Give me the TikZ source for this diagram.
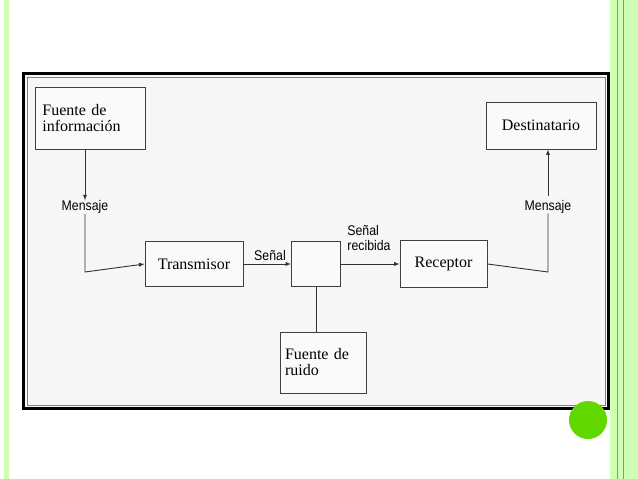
\documentclass[tikz,border=0pt]{standalone}
\usepackage{fontspec}
\setmainfont{Liberation Serif}
\newfontfamily\lab{Liberation Sans}
\begin{document}
\begin{tikzpicture}[x=1pt,y=-1pt,
  box/.style={draw=black!75,line width=0.9pt,fill=white!96!gray,inner sep=0pt,font=\fontsize{16}{16}\selectfont,align=left},
  lbl/.style={font=\lab\fontsize{14}{15}\selectfont,xscale=0.88,align=left,inner sep=0pt},
  arr/.style={line width=0.9pt,draw=black!80,-latex},
  ln/.style={line width=0.9pt,draw=black!80}]
\useasboundingbox (0,0) rectangle (638,479);
\fill[white] (0,0) rectangle (638,479);
% slide decoration
\fill[green!50!lime!30] (4,0) rectangle (9,479);
\fill[green!50!lime!30] (610,0) rectangle (638,479);
\draw[green!45!black!60,line width=0.7pt] (617,0) -- (617,479);
\draw[green!45!black!60,line width=0.7pt] (623,0) -- (623,479);
% frame
\fill[gray!6] (22,72) rectangle (610,410);
\draw[black,line width=3pt] (23.5,73.5) rectangle (608.5,408.5);
\draw[gray,line width=0.8pt] (27,77) rectangle (605,405);
\fill[lime!60!green!85!black] (588,420) circle (19);
% nodes
\node[box,minimum width=110,minimum height=62,anchor=north west,text width=100] (fi) at (35,87) {\hspace*{2pt}Fuente de\\\hspace*{2pt}información};
\node[box,minimum width=98,minimum height=45] (tr) at (194,264) {Transmisor};
\node[box,minimum width=49,minimum height=45] (mx) at (316,264) {};
\node[box,minimum width=87,minimum height=47] (re) at (443.5,264) {Receptor};
\node[box,minimum width=110,minimum height=47] (de) at (541,125.5) {Destinatario};
\node[box,minimum width=86,minimum height=61,text width=76] (ru) at (323,362.5) {Fuente de\\ruido};
\node[lbl] (m1) at (85,207) {Mensaje};
\node[lbl] (m2) at (548,207) {Mensaje};
\node[lbl] (s1) at (270,255) {Señal};
\node[lbl] (s2) at (369,238) {Señal\\recibida};
\coordinate (c1) at (85,272);
\coordinate (c2) at (548,272);
% connectors
\draw[arr] (fi.south -| m1) -- (m1.north);
\draw[arr] (m1.south) -- (c1) -- (tr.west);
\draw[arr] (tr.east) -- (mx.west);
\draw[arr] (mx.east) -- (re.west);
\draw[ln] (re.east) -- (c2) -- (m2.south);
\draw[arr] (m2.north) ++(0,-4) -- (m2.north |- de.south);
\draw[ln] (mx.south) -- (ru.north -| mx.south);
\end{tikzpicture}
\end{document}
